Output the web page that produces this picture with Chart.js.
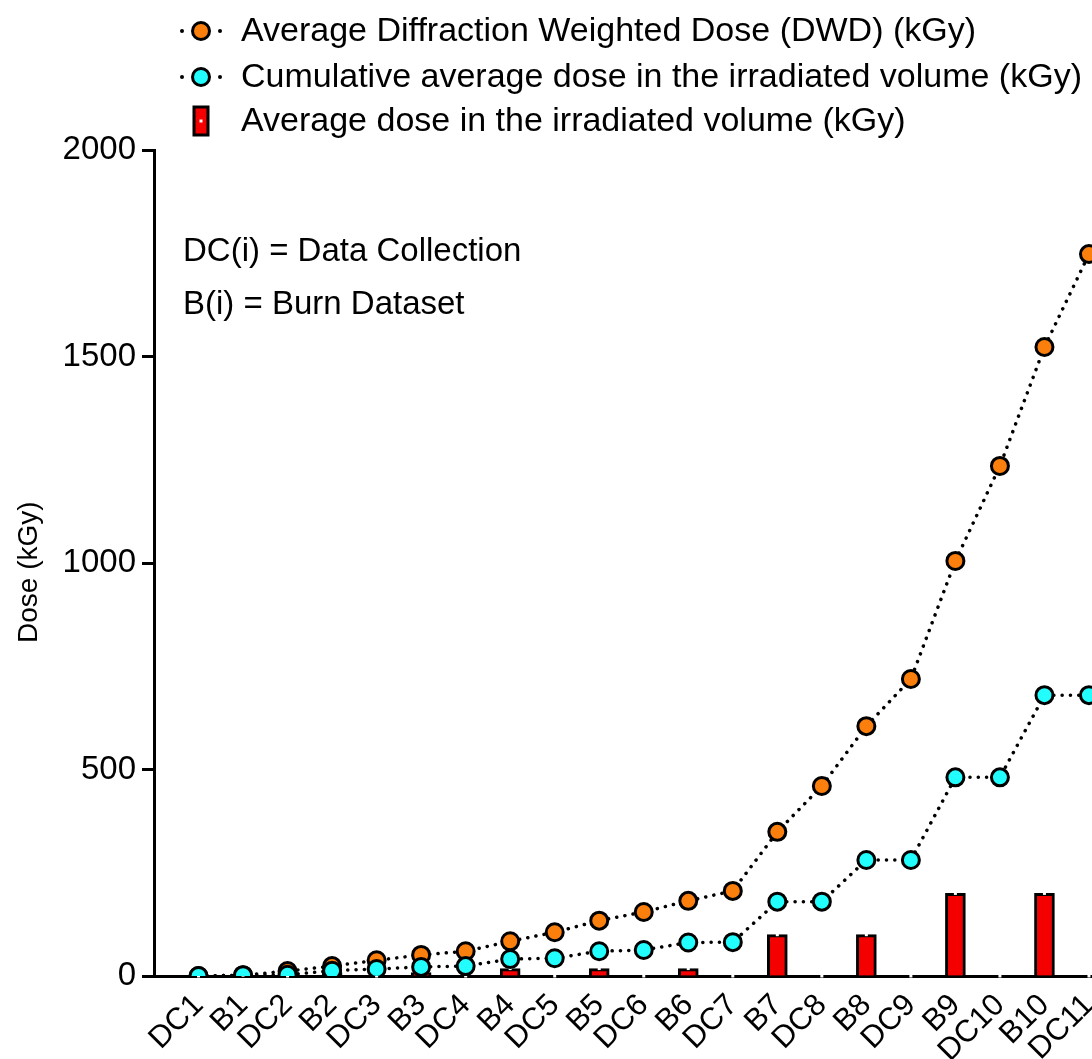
<!DOCTYPE html>
<html>
<head>
<meta charset="utf-8">
<title>Dose per dataset</title>
<script src="https://cdn.jsdelivr.net/npm/chart.js@4.4.1/dist/chart.umd.min.js"></script>
<style>
  html, body { margin: 0; padding: 0; background: #fff; overflow: hidden; }
  canvas { display: block; }
</style>
</head>
<body>
<canvas id="chart" width="1145" height="1059"></canvas>
<script>
// Dataset sequence: data collections (DC) interleaved with burn datasets (B)
const labels = ['DC1', 'B1', 'DC2', 'B2', 'DC3', 'B3', 'DC4', 'B4', 'DC5', 'B5', 'DC6',
  'B6', 'DC7', 'B7', 'DC8', 'B8', 'DC9', 'B9', 'DC10', 'B10', 'DC11'];

// Average diffraction weighted dose, kGy
const dwd = [0, 2, 12, 24, 38, 51, 60, 84, 106, 134, 155,
  182, 206, 349, 460, 605, 719, 1005, 1235, 1523, 1748];

// Cumulative average dose in the irradiated volume, kGy
const cumulative = [0, 2, 3, 13, 17, 22, 24, 41, 43, 60, 63,
  81, 82, 180, 180, 281, 281, 481, 481, 680, 680];

// Average dose in the irradiated volume per dataset, kGy
const average = [0, 2, 0, 8, 0, 8, 0, 18, 0, 18, 0,
  18, 0, 100, 0, 100, 0, 200, 0, 200, 0];

const yTicks = [0, 500, 1000, 1500, 2000];

const FONT = "'Liberation Sans', Arial, Helvetica, sans-serif";
const ORANGE = '#fb7f0c';
const CYAN = '#22fdfd';
const RED = '#f40000';

// small white marks on top of each bar (error bar caps)
const barCaps = {
  id: 'barCaps',
  afterDatasetDraw(chart, args) {
    if (chart.data.datasets[args.index].type !== 'bar') return;
    const ctx = chart.ctx;
    ctx.save();
    ctx.fillStyle = '#fff';
    args.meta.data.forEach(el => {
      ctx.fillRect(el.x - 1.5, el.y - 1.5, 3, 3);
    });
    ctx.restore();
  }
};

// legend, axis title and the DC/B note
const sideText = {
  id: 'sideText',
  afterDraw(chart) {
    const ctx = chart.ctx;
    const mx = 201;
    const rows = [
      { y: 31, kind: 'line', fill: ORANGE, text: chart.data.datasets[1].label },
      { y: 77, kind: 'line', fill: CYAN, text: chart.data.datasets[0].label },
      { y: 121, kind: 'bar', fill: RED, text: chart.data.datasets[2].label }
    ];
    ctx.save();
    rows.forEach(r => {
      ctx.lineWidth = 3;
      ctx.strokeStyle = '#000';
      if (r.kind === 'line') {
        ctx.fillStyle = '#000';
        [mx - 19, mx + 19].forEach(dx => {
          ctx.beginPath();
          ctx.arc(dx, r.y, 2, 0, Math.PI * 2);
          ctx.fill();
        });
        ctx.beginPath();
        ctx.arc(mx, r.y, 8.5, 0, Math.PI * 2);
        ctx.fillStyle = r.fill;
        ctx.fill();
        ctx.stroke();
      } else {
        ctx.fillStyle = r.fill;
        ctx.fillRect(mx - 7, r.y - 14, 14, 28);
        ctx.strokeRect(mx - 7, r.y - 14, 14, 28);
        ctx.fillStyle = '#fff';
        ctx.fillRect(mx - 1.5, r.y - 1.5, 3, 3);
      }
      ctx.fillStyle = '#000';
      ctx.font = '34px ' + FONT;
      ctx.textBaseline = 'middle';
      ctx.textAlign = 'left';
      ctx.fillText(r.text, 241, r.y + 1);
    });
    ctx.font = '33px ' + FONT;
    ctx.textBaseline = 'alphabetic';
    ctx.fillText('DC(i) = Data Collection', 183, 261);
    ctx.fillText('B(i) = Burn Dataset', 183, 314);

    // y axis title, written bottom to top
    ctx.translate(37, 643);
    ctx.rotate(-Math.PI / 2);
    ctx.font = '28px ' + FONT;
    ctx.fillText('Dose (kGy)', 0, 0);
    ctx.restore();
  }
};

new Chart(document.getElementById('chart'), {
  data: {
    datasets: [
      {
        type: 'line',
        label: 'Cumulative average dose in the irradiated volume (kGy)',
        data: cumulative.map((v, i) => ({ x: i, y: v })),
        order: 0,
        borderColor: '#000',
        borderWidth: 3.5,
        borderDash: [0.1, 8.2],
        borderCapStyle: 'round',
        pointRadius: 8.5,
        pointBorderWidth: 3,
        pointBorderColor: '#000',
        pointBackgroundColor: CYAN,
        fill: false
      },
      {
        type: 'line',
        label: 'Average Diffraction Weighted Dose (DWD) (kGy)',
        data: dwd.map((v, i) => ({ x: i, y: v })),
        order: 1,
        borderColor: '#000',
        borderWidth: 3.5,
        borderDash: [0.1, 8.2],
        borderCapStyle: 'round',
        pointRadius: 8.5,
        pointBorderWidth: 3,
        pointBorderColor: '#000',
        pointBackgroundColor: ORANGE,
        fill: false
      },
      {
        type: 'bar',
        label: 'Average dose in the irradiated volume (kGy)',
        data: average.map((v, i) => ({ x: i, y: v })),
        order: 2,
        backgroundColor: RED,
        borderColor: '#000',
        borderWidth: 3,
        borderSkipped: 'bottom',
        barThickness: 20
      }
    ]
  },
  options: {
    responsive: false,
    maintainAspectRatio: false,
    animation: false,
    layout: { padding: { top: 150, left: 0, right: 0, bottom: 0 } },
    plugins: {
      legend: { display: false },
      tooltip: { enabled: false }
    },
    scales: {
      x: {
        type: 'linear',
        min: -1,
        max: 21,
        offset: false,
        grid: { display: false },
        border: { display: true, color: '#000', width: 3 },
        afterFit: scale => {
          scale.height = 83;
          // the axis runs off the right edge, no room kept for end labels
          scale.paddingLeft = 0;
          scale.paddingRight = 0;
        },
        ticks: {
          stepSize: 1,
          autoSkip: false,
          minRotation: 45,
          maxRotation: 45,
          padding: 3,
          color: '#000',
          font: { family: FONT, size: 31 },
          callback: v => labels[v] ?? ''
        }
      },
      y: {
        min: 0,
        max: 2000,
        afterFit: scale => { scale.width = 154; },
        afterBuildTicks: scale => { scale.ticks = yTicks.map(v => ({ value: v })); },
        grid: {
          drawOnChartArea: false,
          drawTicks: true,
          tickLength: 12,
          tickWidth: 3,
          tickColor: '#000'
        },
        border: { display: true, color: '#000', width: 3 },
        ticks: {
          padding: 6,
          color: '#000',
          font: { family: FONT, size: 33 },
          callback: v => String(v)
        }
      }
    }
  },
  plugins: [barCaps, sideText]
});
</script>
</body>
</html>
